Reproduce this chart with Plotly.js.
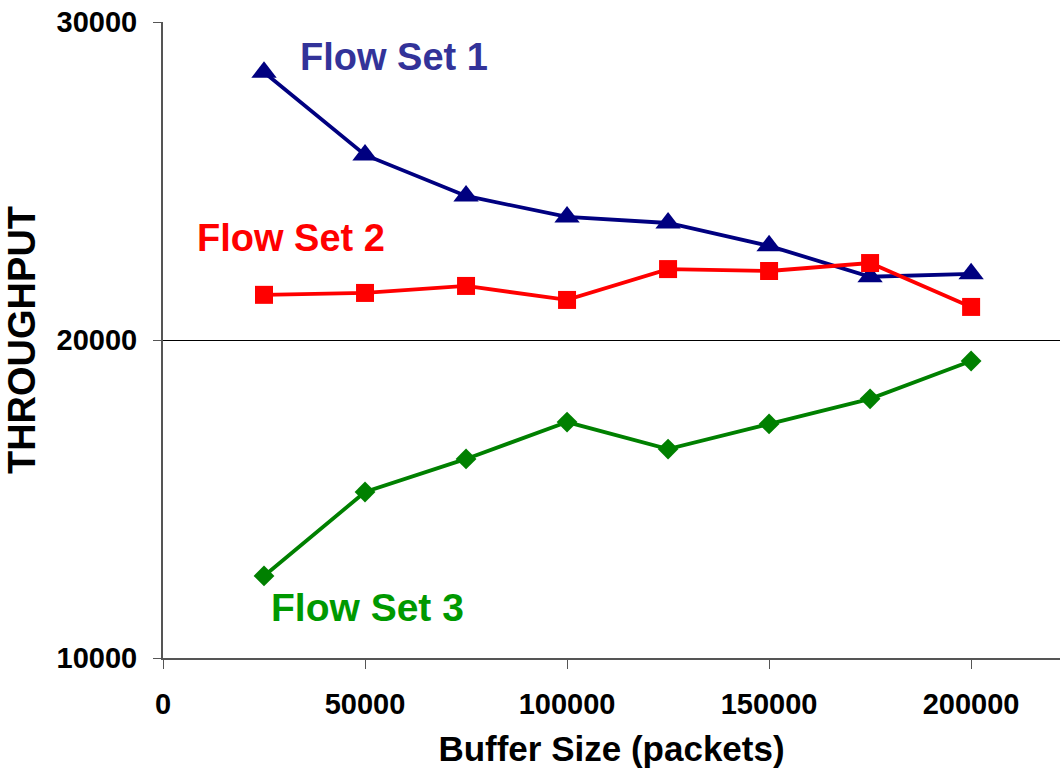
<!DOCTYPE html>
<html>
<head>
<meta charset="utf-8">
<script src="https://cdn.plot.ly/plotly-3.0.1.min.js"></script>
<style>html,body{margin:0;padding:0;background:#fff;}#chart{width:1060px;height:775px;}</style>
</head>
<body>
<div id="chart"></div>
<script>
const bufferSizes = [25000, 50000, 75000, 100000, 125000, 150000, 175000, 200000];
const flowSet1 = [28420, 25820, 24530, 23870, 23680, 22960, 21990, 22080];
const flowSet2 = [21420, 21480, 21700, 21260, 22230, 22170, 22420, 21040];
const flowSet3 = [12580, 15220, 16260, 17420, 16570, 17360, 18150, 19340];
const xTicks = [0, 50000, 100000, 150000, 200000];
const yTicks = [10000, 20000, 30000];

const font = 'Liberation Sans, Arial, sans-serif';

const traces = [
  {x: bufferSizes, y: flowSet1, mode: 'lines+markers', name: 'Flow Set 1',
   line: {color: '#000080', width: 3.8}, marker: {symbol: 'triangle-up', size: 22, color: '#000080'}},
  {x: bufferSizes, y: flowSet2, mode: 'lines+markers', name: 'Flow Set 2',
   line: {color: '#FF0000', width: 3.8}, marker: {symbol: 'square', size: 18, color: '#FF0000'}},
  {x: bufferSizes, y: flowSet3, mode: 'lines+markers', name: 'Flow Set 3',
   line: {color: '#008000', width: 3.8}, marker: {symbol: 'diamond', size: 16, color: '#008000'}}
];

const layout = {
  width: 1060, height: 775,
  margin: {l: 163, r: 0, t: 22, b: 117},
  paper_bgcolor: '#fff', plot_bgcolor: '#fff',
  showlegend: false,
  font: {family: font, color: '#000'},
  xaxis: {
    range: [0, 222000], tickvals: xTicks, ticktext: xTicks.map(String),
    showgrid: false, zeroline: false,
    showline: true, linecolor: '#555', linewidth: 2,
    ticks: 'outside', ticklen: 9, tickcolor: '#555', tickwidth: 1,
    ticklabelstandoff: 10,
    tickfont: {family: font, size: 29, color: '#000', weight: 'bold'},
    title: {text: '<b>Buffer Size (packets)</b>', font: {family: font, size: 35, color: '#000'}, standoff: 18}
  },
  yaxis: {
    range: [10000, 30000], tickvals: yTicks, ticktext: yTicks.map(String),
    showgrid: true, gridcolor: '#000', gridwidth: 1, zeroline: false,
    showline: true, linecolor: '#555', linewidth: 2,
    ticks: 'outside', ticklen: 8, tickcolor: '#555', tickwidth: 1,
    ticklabelstandoff: 10,
    tickfont: {family: font, size: 29, color: '#000', weight: 'bold'},
    title: {text: '<b>THROUGHPUT</b>', font: {family: font, size: 38, color: '#000'}, standoff: 9}
  },
  annotations: [
    {x: 33300, y: 28900, xref: 'x', yref: 'y', xanchor: 'left', yanchor: 'middle', showarrow: false,
     text: '<b>Flow Set 1</b>', font: {family: font, size: 38, color: '#333399'}},
    {x: 8000, y: 23210, xref: 'x', yref: 'y', xanchor: 'left', yanchor: 'middle', showarrow: false,
     text: '<b>Flow Set 2</b>', font: {family: font, size: 38, color: '#FF0000'}},
    {x: 26300, y: 11600, xref: 'x', yref: 'y', xanchor: 'left', yanchor: 'middle', showarrow: false,
     text: '<b>Flow Set 3</b>', font: {family: font, size: 39, color: '#009900'}}
  ]
};

Plotly.newPlot('chart', traces, layout, {displayModeBar: false, staticPlot: true});
</script>
</body>
</html>
